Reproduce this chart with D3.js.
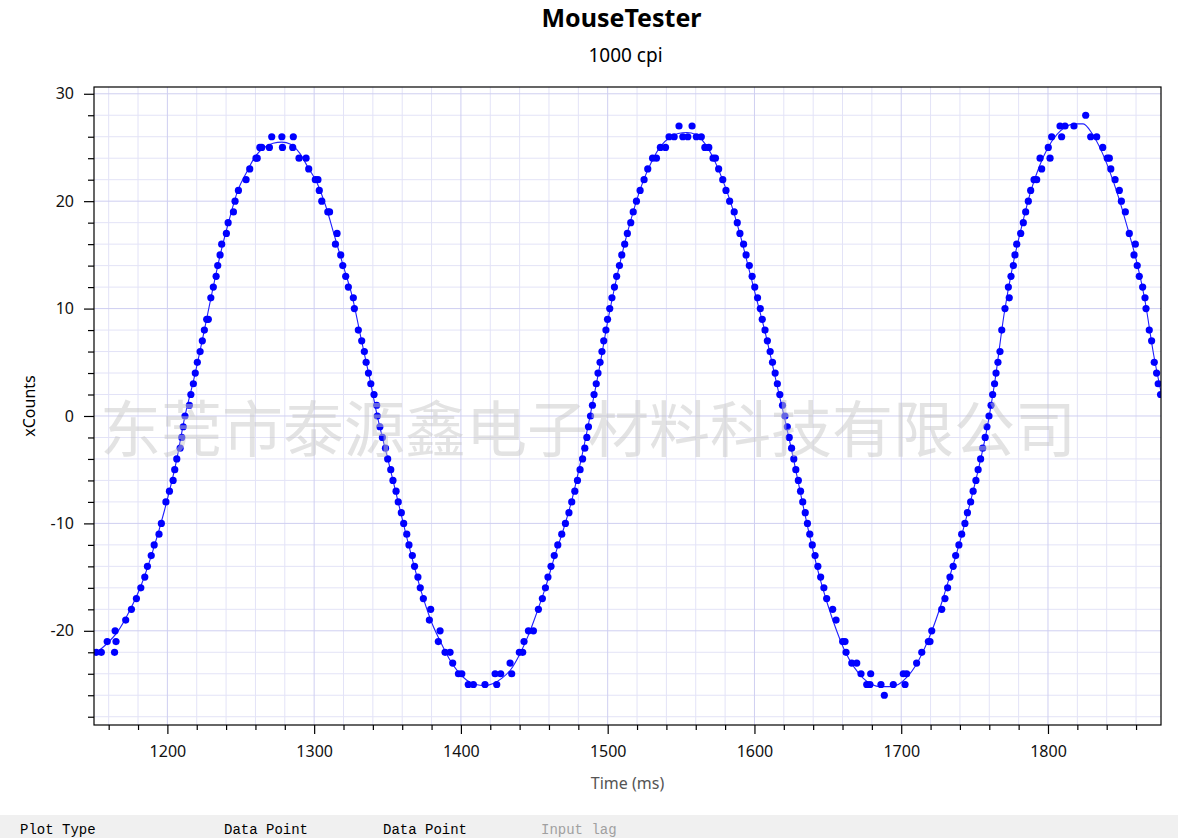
<!DOCTYPE html>
<html>
<head>
<meta charset="utf-8">
<script src="https://cdn.jsdelivr.net/npm/d3@7"></script>
<style>
  html, body { margin: 0; padding: 0; background: #fff; }
  svg { display: block; }
</style>
</head>
<body>
<div id="chart"></div>
<script>
// Chart data
const title = "MouseTester";
const subtitle = "1000 cpi";
const xLabel = "Time (ms)";
const yLabel = "xCounts";
const watermark = "东莞市泰源鑫电子材料科技有限公司";
const footerLabels = ["Plot Type", "Data Point", "Data Point", "Input lag"];

const xMajorTicks = [1200, 1300, 1400, 1500, 1600, 1700, 1800];
const yMajorTicks = [-20, -10, 0, 10, 20, 30];

// measured reports: time (ms) and x counts
const dotTimes = [
  1151.5, 1155, 1159, 1164, 1165, 1164.4, 1171.6, 1175.5, 1178.9, 1181.9,
  1184.6, 1186.4, 1189, 1191, 1194.3, 1195.9, 1199, 1201.4, 1203.9, 1205,
  1206.4, 1208.7, 1209.8, 1210.8, 1212, 1215, 1216, 1217.7, 1219, 1220.4,
  1222.3, 1223.8, 1225.2, 1226.8, 1227.9, 1229.6, 1231.3, 1233.2, 1234.3, 1235.9,
  1237, 1240.2, 1241.4, 1245, 1246.1, 1248.4, 1253.6, 1256.1, 1260.4, 1261.2,
  1263, 1264.3, 1269.5, 1271.1, 1278, 1278.4, 1285.8, 1285.4, 1289.7, 1294.5,
  1296.3, 1300.8, 1302.6, 1303.5, 1305.2, 1309.3, 1310.5, 1314.5, 1315.6, 1318.1,
  1319.5, 1321.5, 1323.3, 1326.7, 1327.4, 1330.1, 1332.4, 1334.2, 1335.4, 1337,
  1338.6, 1340.8, 1342.6, 1343,
  1344.8, 1346.5, 1348.6, 1350.1, 1352.2, 1353.7, 1355.8, 1357.3, 1359.4, 1361,
  1363.1, 1364.6, 1366.9, 1368.4, 1370.7, 1372.3,
  1374.4, 1379.4, 1378.5, 1385.8, 1384.6, 1389.2, 1392.6, 1394.4, 1398.3, 1400.6,
  1405, 1408.5, 1416.4, 1424.4, 1423.3, 1427.1, 1434.6, 1433.5, 1439.8, 1442.1,
  1443, 1446, 1449.4, 1452.8, 1455.5,
  1457.6, 1459.3, 1461.4, 1463.6, 1466, 1468.7, 1471.2, 1473.6, 1475.5, 1477.6,
  1479.4, 1481.2, 1482.9, 1484.4, 1485.8, 1486.9, 1488.3, 1489.6, 1490.7, 1492.2,
  1493.4, 1494.8, 1496.1, 1497.3, 1498.8, 1499.9, 1501.4, 1502.9, 1504.6, 1506.1,
  1508, 1509.6, 1511.6, 1513.4, 1515.7, 1517.4, 1519.6, 1522.1, 1524.8, 1527.3,
  1530.6, 1533.2, 1535.9, 1539.4, 1541.8, 1545.3, 1548.6, 1551.2, 1554.6, 1557.5,
  1560.4, 1563.8, 1566.2, 1568.9, 1571.8, 1573.4, 1575.6, 1578.4, 1580.6, 1583.1,
  1586.2, 1588.3, 1590.1, 1592.6, 1594.3, 1596.5, 1598.4, 1600.2, 1602.1, 1604,
  1605.3, 1607.2, 1608.8, 1610.7, 1612.3, 1614.1, 1615.6, 1617.3, 1619.1, 1620.8,
  1622.4, 1623.7, 1625.3, 1626.8, 1628.2, 1629.9, 1631.4, 1632.9, 1634.6, 1636.1,
  1637.7, 1639.4, 1641.3, 1643.2, 1645.1, 1647.3,
  1649.2, 1653.3, 1655.6, 1660.1, 1661.7, 1662.4, 1666.3, 1669.7, 1672.6, 1679.2,
  1676.5, 1678.7, 1686.2, 1688.5, 1694.6, 1702.6, 1701.4, 1703.7, 1710.5, 1714,
  1718.5, 1719.6, 1720.8, 1727.6, 1729.8,
  1731.6, 1733.2, 1735.4, 1737.1, 1739.3, 1741.2, 1743.4, 1745.1, 1747.3, 1749,
  1750.9, 1752.4, 1754.1, 1755.5, 1757.2, 1758.4, 1759.8, 1761.2, 1762.3, 1763.6,
  1764.6, 1765.9, 1767.3, 1768.5, 1770.7, 1773.6, 1773, 1774.8, 1776.4, 1777.5,
  1778.7, 1781.4, 1783.2, 1784.8, 1786.6, 1788.2, 1790.5, 1792.3, 1795.7, 1794.6,
  1801.4, 1800.2, 1802.5, 1809.3, 1808.2, 1811.6, 1817.7, 1825.7, 1829.1, 1833.2,
  1837.3, 1840.4, 1841.8, 1842.8, 1845.7, 1848.6, 1850, 1852.7, 1855.4, 1859.5,
  1858.6, 1860.8, 1862.2, 1864.5, 1866.1, 1866.8, 1869, 1870.6, 1872.4, 1874,
  1875.1, 1876.7
];
const dotCounts = [
  -22, -22, -21, -22, -21, -20, -19, -18, -17, -16,
  -15, -14, -13, -12, -11, -10, -8, -7, -6, -5,
  -4, -3, -2, -1, 0, 1, 2, 3, 4, 5,
  6, 7, 8, 9, 9, 11, 12, 13, 14, 15,
  16, 17, 18, 19, 20, 21, 22, 23, 24, 24,
  25, 25, 25, 26, 26, 25, 26, 25, 24, 24,
  23, 22, 22, 21, 20, 19, 19, 16, 17, 15,
  14, 13, 12, 11, 10, 8, 7, 6, 5, 4,
  3, 2, 1, 0,
  -1, -2, -3, -4, -5, -6, -7, -8, -9, -10,
  -11, -12, -13, -14, -15, -16,
  -17, -18, -19, -20, -21, -22, -22, -23, -24, -24,
  -25, -25, -25, -25, -24, -24, -24, -23, -22, -22,
  -21, -20, -20, -18, -17,
  -16, -15, -14, -13, -12, -11, -10, -9, -8, -7,
  -6, -5, -4, -3, -2, -1, 0, 1, 2, 3,
  4, 5, 6, 7, 8, 9, 10, 11, 12, 13,
  14, 15, 16, 17, 18, 19, 20, 21, 22, 23,
  24, 24, 25, 25, 26, 26, 27, 26, 26, 27,
  26, 26, 25, 25, 24, 24, 23, 22, 21, 20,
  19, 18, 17, 16, 15, 14, 13, 12, 11, 10,
  9, 8, 7, 6, 5, 4, 3, 2, 1, 0,
  -1, -2, -3, -4, -5, -6, -7, -8, -9, -10,
  -11, -12, -13, -14, -15, -16,
  -17, -18, -19, -21, -21, -22, -23, -23, -24, -24,
  -25, -25, -25, -26, -25, -25, -24, -24, -23, -22,
  -21, -21, -20, -18, -17,
  -16, -15, -14, -13, -12, -11, -10, -9, -8, -7,
  -6, -5, -4, -3, -2, -1, 0, 1, 2, 3,
  4, 5, 6, 8, 10, 11, 12, 13, 14, 15,
  16, 17, 18, 19, 20, 21, 22, 22, 23, 24,
  24, 25, 26, 26, 27, 27, 27, 28, 26, 26,
  25, 24, 24, 23, 22, 21, 20, 19, 17, 16,
  15, 14, 13, 12, 11, 10, 8, 7, 5, 4,
  3, 2
];

// smoothed trace drawn through the reports
const fitTimes = [
  1150, 1158, 1166, 1174, 1182, 1190, 1198, 1206, 1212, 1218,
  1224, 1230, 1236, 1242, 1248, 1254, 1260, 1266, 1272, 1278,
  1284, 1290, 1296, 1302, 1308, 1314, 1320, 1326, 1332, 1338,
  1343, 1350, 1356, 1362, 1368, 1374, 1380, 1386, 1392, 1398,
  1404, 1410, 1416, 1422, 1428, 1434, 1440, 1446, 1452, 1458,
  1464, 1470, 1476, 1482, 1488, 1494, 1500, 1506, 1512, 1518,
  1524, 1530, 1536, 1542, 1548, 1554, 1560, 1566, 1572, 1578,
  1584, 1590, 1596, 1602, 1608, 1614, 1620, 1626, 1632, 1638,
  1644, 1650, 1656, 1662, 1668, 1674, 1680, 1686, 1692, 1698,
  1704, 1710, 1716, 1722, 1728, 1734, 1740, 1746, 1752, 1758,
  1764, 1770, 1776, 1782, 1788, 1794, 1800, 1806, 1812, 1818,
  1824, 1830, 1836, 1842, 1848, 1854, 1860, 1866, 1872, 1878
];
const fitCounts = [
  -22.2, -21.3, -20.1, -18.2, -15.8, -12.6, -8.8, -4.3, 0, 3.4,
  7.2, 11.2, 15, 18.2, 21, 22.7, 24.2, 25, 25.4, 25.5,
  25.3, 24.5, 23.1, 21.7, 19.5, 16.7, 13.9, 11.1, 7.2, 3.4,
  0, -3.9, -7.3, -10.7, -13.9, -16.8, -19.2, -21, -22.6, -23.8,
  -24.6, -25, -25.1, -24.9, -24.4, -23.6, -22.2, -20.4, -18.2, -15.8,
  -13, -10.5, -7.6, -4, 0, 4.2, 8.8, 12.8, 16.3, 19.3,
  21.8, 23.7, 25.1, 25.9, 26.3, 26.4, 26.2, 25.4, 24, 22.1,
  19.8, 17, 13.8, 10.6, 7.4, 3.7, 0.1, -3.6, -7.6, -11.4,
  -14.8, -17.6, -20, -22, -23.4, -24.4, -25, -25.2, -25.2, -25,
  -24.3, -23.2, -21.6, -19.6, -17.2, -14.5, -11.7, -8.6, -5.3, -1.5,
  3.4, 9.4, 14, 17.6, 20.8, 23.2, 25, 26.2, 26.9, 27.2,
  27.2, 26.3, 24.8, 22.8, 20.4, 17.6, 14.6, 10.8, 5.7, 1.6
];

// ---- layout ----
const width = 1178;
const height = 838;
const plot = { left: 94, right: 1161, top: 87, bottom: 725 };

const svg = d3.select("#chart")
  .append("svg")
  .attr("width", width)
  .attr("height", height)
  .attr("viewBox", `0 0 ${width} ${height}`);

const x = d3.scaleLinear().domain([1150, 1877]).range([plot.left, plot.right]);
const y = d3.scaleLinear().domain([-28.77, 30.63]).range([plot.bottom, plot.top]);

const uiFont = "'Segoe UI', 'Noto Sans', 'Open Sans', sans-serif";

// Grid (minor then major)
const grid = svg.append("g").attr("class", "grid");
const xMinor = d3.range(1160, 1877, 20).filter(t => t % 100 !== 0);
const yMinor = d3.range(-28, 31, 2).filter(v => v % 10 !== 0);

grid.selectAll(".gx-minor").data(xMinor).enter().append("line")
  .attr("x1", d => x(d)).attr("x2", d => x(d))
  .attr("y1", plot.top).attr("y2", plot.bottom)
  .style("stroke", "#e3e3f7").style("stroke-width", 1);
grid.selectAll(".gy-minor").data(yMinor).enter().append("line")
  .attr("x1", plot.left).attr("x2", plot.right)
  .attr("y1", d => y(d)).attr("y2", d => y(d))
  .style("stroke", "#e3e3f7").style("stroke-width", 1);
grid.selectAll(".gx-major").data(xMajorTicks).enter().append("line")
  .attr("x1", d => x(d)).attr("x2", d => x(d))
  .attr("y1", plot.top).attr("y2", plot.bottom)
  .style("stroke", "#cfcff1").style("stroke-width", 1);
grid.selectAll(".gy-major").data(yMajorTicks).enter().append("line")
  .attr("x1", plot.left).attr("x2", plot.right)
  .attr("y1", d => y(d)).attr("y2", d => y(d))
  .style("stroke", "#cfcff1").style("stroke-width", 1);

// clip for the data
svg.append("clipPath").attr("id", "plot-clip")
  .append("rect")
  .attr("x", plot.left).attr("y", plot.top)
  .attr("width", plot.right - plot.left).attr("height", plot.bottom - plot.top);

const dataLayer = svg.append("g").attr("clip-path", "url(#plot-clip)");

// smoothed line
const fitData = fitTimes.map((t, i) => [t, fitCounts[i]]);
const line = d3.line()
  .x(d => x(d[0]))
  .y(d => y(d[1]))
  .curve(d3.curveMonotoneX);

dataLayer.append("path")
  .datum(fitData)
  .attr("d", line)
  .style("fill", "none")
  .style("stroke", "#1f1fff")
  .style("stroke-width", 1.1);

// report dots
const dots = dotTimes.map((t, i) => ({ t, v: dotCounts[i] }));
dataLayer.selectAll(".dot").data(dots).enter().append("circle")
  .attr("class", "dot")
  .attr("cx", d => x(d.t))
  .attr("cy", d => y(d.v))
  .attr("r", 3.6)
  .style("fill", "#0000ff");

// plot frame
svg.append("rect")
  .attr("x", plot.left).attr("y", plot.top)
  .attr("width", plot.right - plot.left).attr("height", plot.bottom - plot.top)
  .style("fill", "none").style("stroke", "#000").style("stroke-width", 1.2);

// axes (plain hyphen minus, as in the original)
const fmt = d => String(d);
const xAxisMinor = d3.axisBottom(x).tickValues(xMinor).tickSize(5).tickFormat("");
const xAxis = d3.axisBottom(x).tickValues(xMajorTicks).tickSize(9).tickPadding(12).tickFormat(fmt);
const yAxisMinor = d3.axisLeft(y).tickValues(yMinor).tickSize(6).tickFormat("");
const yAxis = d3.axisLeft(y).tickValues(yMajorTicks).tickSize(10).tickPadding(10).tickFormat(fmt);

[xAxisMinor, xAxis].forEach(ax => {
  svg.append("g").attr("transform", `translate(0,${plot.bottom})`).call(ax)
    .call(g => g.select(".domain").remove());
});
[yAxisMinor, yAxis].forEach(ax => {
  svg.append("g").attr("transform", `translate(${plot.left},0)`).call(ax)
    .call(g => g.select(".domain").remove());
});
svg.selectAll(".tick line").style("stroke", "#000").style("stroke-width", 1.2);
svg.selectAll(".tick text")
  .style("font-family", uiFont)
  .style("font-size", "16px")
  .style("fill", "#111");

// titles
svg.append("text")
  .attr("x", (plot.left + plot.right) / 2 - 6).attr("y", 27)
  .attr("text-anchor", "middle")
  .style("font-family", uiFont).style("font-weight", "bold").style("font-size", "25px")
  .style("fill", "#000")
  .text(title);
svg.append("text")
  .attr("x", (plot.left + plot.right) / 2 - 2).attr("y", 62)
  .attr("text-anchor", "middle")
  .style("font-family", uiFont).style("font-size", "19px")
  .style("fill", "#000")
  .text(subtitle);

// axis labels
svg.append("text")
  .attr("x", (plot.left + plot.right) / 2).attr("y", 789)
  .attr("text-anchor", "middle")
  .style("font-family", uiFont).style("font-size", "16px")
  .style("fill", "#555")
  .text(xLabel);
svg.append("text")
  .attr("transform", `translate(35,${(plot.top + plot.bottom) / 2}) rotate(-90)`)
  .attr("text-anchor", "middle")
  .style("font-family", uiFont).style("font-size", "16px")
  .style("fill", "#000")
  .text(yLabel);

// watermark over the chart
svg.append("text")
  .attr("x", 100).attr("y", 452)
  .style("font-family", "'Noto Sans CJK SC', sans-serif")
  .style("font-size", "61px")
  .style("fill", "#c8c8c8")
  .style("opacity", 0.5)
  .text(watermark);

// footer strip (controls of the tool)
svg.append("rect")
  .attr("x", 0).attr("y", 815).attr("width", width).attr("height", height - 815)
  .style("fill", "#f0f0f0");
const footerX = [20, 224, 383, 541];
svg.selectAll(".footer").data(footerLabels).enter().append("text")
  .attr("x", (d, i) => footerX[i]).attr("y", 834)
  .style("font-family", "'Liberation Mono', 'DejaVu Sans Mono', monospace")
  .style("font-size", "14px")
  .style("fill", (d, i) => i === 3 ? "#a0a0a0" : "#000")
  .text(d => d);
</script>
</body>
</html>
